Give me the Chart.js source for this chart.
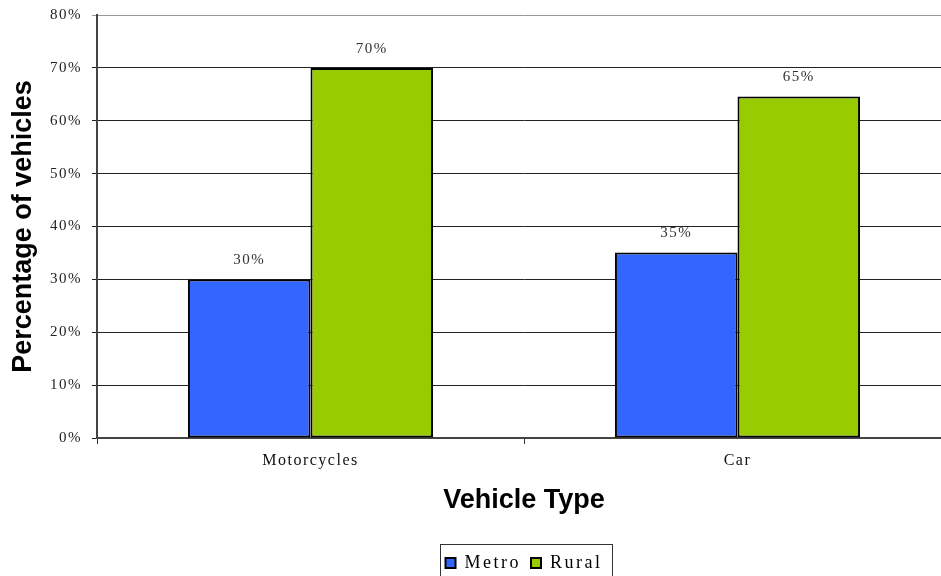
<!DOCTYPE html>
<html>
<head>
<meta charset="utf-8">
<script src="https://cdn.jsdelivr.net/npm/chart.js@4.4.0/dist/chart.umd.min.js"></script>
<style>
html,body{margin:0;padding:0;background:#fff;overflow:hidden;}
#wrap{width:951px;height:576px;}
</style>
</head>
<body>
<div id="wrap"><canvas id="c" width="951" height="576"></canvas></div>
<script>
const categories = ['Motorcycles', 'Car'];
const seriesNames = ['Metro', 'Rural'];
const metroValues = [30, 35.1];
const ruralValues = [70, 64.6];
const yTickValues = [0, 10, 20, 30, 40, 50, 60, 70, 80];
const yTitle = 'Percentage of vehicles';
const xTitle = 'Vehicle Type';

const SERIF = "'Liberation Serif', 'Times New Roman', serif";
const SANS = "'Liberation Sans', Arial, sans-serif";
const SPACING = '1.5px';
const LEGEND_SPACING = '2.5px';

function withSpacing(obj, name, spacing) {
  const orig = obj[name];
  obj[name] = function () {
    const ctx = this.ctx;
    ctx.save();
    ctx.letterSpacing = spacing;
    const r = orig.apply(this, arguments);
    ctx.restore();
    return r;
  };
}

const spacingPlugin = {
  id: 'spacing',
  beforeLayout(chart) {
    chart.ctx.letterSpacing = SPACING;
    const lg = chart.legend;
    if (lg && !lg._wrappedSpacing) {
      withSpacing(lg, 'fit', LEGEND_SPACING);
      withSpacing(lg, 'draw', LEGEND_SPACING);
      lg._wrappedSpacing = true;
    }
  },
  beforeDraw(chart) {
    chart.ctx.letterSpacing = SPACING;
    Object.values(chart.scales).forEach(s => {
      if (!s._wrappedTitle) {
        withSpacing(s, 'drawTitle', '0px');
        s._wrappedTitle = true;
      }
    });
  }
};

const valueLabels = {
  id: 'valueLabels',
  afterDatasetsDraw(chart) {
    const ctx = chart.ctx;
    ctx.save();
    ctx.font = '15px ' + SERIF;
    ctx.fillStyle = '#333';
    ctx.textAlign = 'center';
    ctx.textBaseline = 'middle';
    chart.data.datasets.forEach((ds, di) => {
      const meta = chart.getDatasetMeta(di);
      meta.data.forEach((bar, i) => {
        ctx.fillText(Math.round(ds.data[i]) + '%', bar.x, bar.y - 19);
      });
    });
    ctx.restore();
  }
};

const legendBorder = {
  id: 'legendBorder',
  afterDraw(chart) {
    const lg = chart.legend;
    const hb = lg && lg.legendHitBoxes;
    if (!hb || !hb.length) return;
    const last = hb[hb.length - 1];
    const left = Math.round(hb[0].left - 6);
    const right = Math.round(last.left + last.width + 10);
    const ctx = chart.ctx;
    ctx.save();
    ctx.strokeStyle = '#333';
    ctx.lineWidth = 1;
    ctx.strokeRect(left + 0.5, Math.round(lg.top) + 0.5, right - left, lg.bottom - lg.top + 4);
    ctx.restore();
  }
};

new Chart(document.getElementById('c'), {
  type: 'bar',
  data: {
    labels: categories,
    datasets: [
      { label: seriesNames[0], data: metroValues, backgroundColor: '#3366FF', borderColor: '#000', borderWidth: 2, borderSkipped: false, categoryPercentage: 0.574, barPercentage: 1 },
      { label: seriesNames[1], data: ruralValues, backgroundColor: '#99CC00', borderColor: '#000', borderWidth: 2, borderSkipped: false, categoryPercentage: 0.574, barPercentage: 1 }
    ]
  },
  options: {
    responsive: false,
    animation: false,
    devicePixelRatio: 1,
    layout: { padding: { top: 15, left: 0, right: 0, bottom: -6 } },
    plugins: {
      tooltip: { enabled: false },
      legend: {
        position: 'bottom',
        fullSize: false,
        labels: {
          boxWidth: 10, boxHeight: 10, padding: 10,
          color: '#000',
          font: { family: SERIF, size: 18 }
        }
      }
    },
    scales: {
      x: {
        afterFit(s) { s.height = 106; },
        grid: { offset: true, drawOnChartArea: false, drawTicks: true, tickLength: 6, color: '#333' },
        border: { display: true, color: '#444', width: 2 },
        ticks: { color: '#111', padding: 7, font: { family: SERIF, size: 16 }, maxRotation: 0 },
        title: { display: true, text: xTitle, color: '#000', font: { family: SANS, size: 27, weight: 'bold' }, padding: { top: 0, bottom: 27 } }
      },
      y: {
        min: 0, max: 80,
        afterFit(s) { s.width = 97; s.paddingTop = 0; s.paddingBottom = 0; },
        afterBuildTicks(s) { s.ticks = yTickValues.map(v => ({ value: v })); },
        grid: {
          drawTicks: true, tickLength: 5, lineWidth: 1,
          color: ctx => (ctx.tick && ctx.tick.value === 80) ? '#999' : '#222'
        },
        border: { display: true, color: '#444', width: 2 },
        ticks: { color: '#222', padding: 10, font: { family: SERIF, size: 15 }, callback: v => v + '%' },
        title: { display: true, text: yTitle, color: '#000', font: { family: SANS, size: 27, weight: 'bold' }, padding: { top: 7, bottom: 0 } }
      }
    }
  },
  plugins: [spacingPlugin, valueLabels, legendBorder]
});
</script>
</body>
</html>
